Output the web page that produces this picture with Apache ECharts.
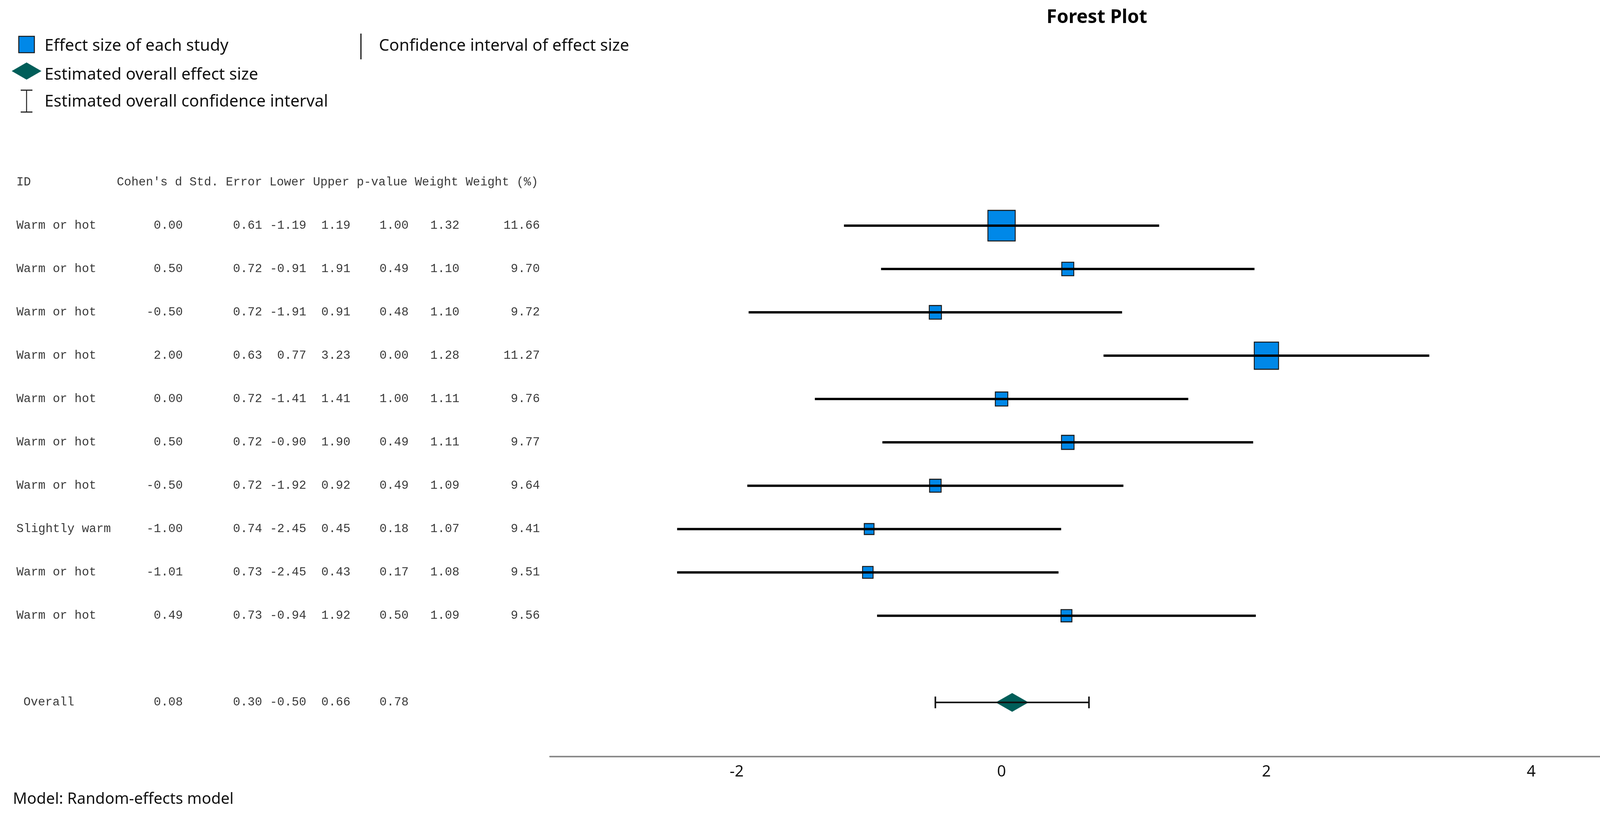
<!DOCTYPE html>
<html>
<head>
<meta charset="utf-8">
<script src="https://cdn.jsdelivr.net/npm/echarts@6/dist/echarts.min.js"></script>
<style>
html,body{margin:0;padding:0;background:#fff;}
#chart{width:4233px;height:2103px;}
</style>
</head>
<body>
<div id="chart"></div>
<script>
// ---------- data ----------
const ids = ['Warm or hot','Warm or hot','Warm or hot','Warm or hot','Warm or hot','Warm or hot','Warm or hot','Slightly warm','Warm or hot','Warm or hot'];
const cohensD = [0.00, 0.50, -0.50, 2.00, 0.00, 0.50, -0.50, -1.00, -1.01, 0.49];
const stdError = [0.61, 0.72, 0.72, 0.63, 0.72, 0.72, 0.72, 0.74, 0.73, 0.73];
const lowerCI = [-1.19, -0.91, -1.91, 0.77, -1.41, -0.90, -1.92, -2.45, -2.45, -0.94];
const upperCI = [1.19, 1.91, 0.91, 3.23, 1.41, 1.90, 0.92, 0.45, 0.43, 1.92];
const pValue = [1.00, 0.49, 0.48, 0.00, 1.00, 0.49, 0.49, 0.18, 0.17, 0.50];
const weight = [1.32, 1.10, 1.10, 1.28, 1.11, 1.11, 1.09, 1.07, 1.08, 1.09];
const weightPct = [11.66, 9.70, 9.72, 11.27, 9.76, 9.77, 9.64, 9.41, 9.51, 9.56];
const overallLabel = 'Overall';
const overallD = 0.08;
const overallSE = 0.30;
const overallLower = -0.50;
const overallUpper = 0.66;
const overallP = 0.78;
const headerID = 'ID';
const headerCols = "Cohen's d Std. Error Lower Upper p-value Weight Weight (%)";
const xTicks = [-2, 0, 2, 4];

// ---------- layout ----------
const GRID_TOP = 467, GRID_BOTTOM = 165;
const Y_MAX = 13.25;
const ROW_OVERALL = 12;
const colRight = [468, 671, 784, 897, 1046, 1176, 1382];
const ID_X = 42, OVERALL_X = 60, HEADER_X = 299;
const monoFont = '31px "Liberation Mono", "DejaVu Sans Mono", monospace';
const sansFont = '"Noto Sans", "Open Sans", sans-serif';
const BLUE = '#0088e8';
const TEAL = '#005e59';

const f2 = v => v.toFixed(2);

// table cells built from data arrays
const tableCells = [];
tableCells.push([ID_X, 0, headerID, 'left']);
tableCells.push([HEADER_X, 0, headerCols, 'left']);
ids.forEach((id, i) => {
  const y = i + 1;
  tableCells.push([ID_X, y, id, 'left']);
  const vals = [cohensD[i], stdError[i], lowerCI[i], upperCI[i], pValue[i], weight[i], weightPct[i]];
  vals.forEach((v, c) => tableCells.push([colRight[c], y, f2(v), 'right']));
});
tableCells.push([OVERALL_X, ROW_OVERALL, overallLabel, 'left']);
[overallD, overallSE, overallLower, overallUpper, overallP].forEach((v, c) =>
  tableCells.push([colRight[c], ROW_OVERALL, f2(v), 'right']));

const studyCI = ids.map((id, i) => [lowerCI[i], upperCI[i], i + 1]);
const minW = Math.min(...weightPct), maxW = Math.max(...weightPct);
const studyPts = ids.map((id, i) => {
  const s = 25 + (weightPct[i] - minW) / (maxW - minW) * 45;
  return { value: [cohensD[i], i + 1], symbolSize: [s, s * 1.12] };
});

const chart = echarts.init(document.getElementById('chart'), null, { renderer: 'canvas' });

const option = {
  backgroundColor: '#ffffff',
  animation: false,
  grid: [
    { left: 0, width: 1400, top: GRID_TOP, bottom: GRID_BOTTOM },
    { left: 1408, right: 35, top: GRID_TOP, bottom: GRID_BOTTOM }
  ],
  xAxis: [
    { gridIndex: 0, type: 'value', min: 0, max: 1400, show: false },
    {
      gridIndex: 1, type: 'value', min: -3.41, max: 4.82,
      axisLine: { show: true, onZero: false, lineStyle: { color: '#8a8a8a', width: 4 } },
      axisTick: { show: false },
      splitLine: { show: false },
      axisLabel: {
        customValues: xTicks, fontSize: 40, color: '#111', margin: 20,
        fontFamily: sansFont, showMinLabel: true, showMaxLabel: true
      }
    }
  ],
  yAxis: [
    { gridIndex: 0, type: 'value', min: 0, max: Y_MAX, inverse: true, show: false },
    { gridIndex: 1, type: 'value', min: 0, max: Y_MAX, inverse: true, show: false }
  ],
  series: [
    {
      type: 'custom', xAxisIndex: 0, yAxisIndex: 0, clip: false,
      data: tableCells,
      renderItem: function (params, api) {
        const d = tableCells[params.dataIndex];
        const p = api.coord([d[0], d[1]]);
        return {
          type: 'text', x: p[0], y: p[1],
          style: { text: d[2], textAlign: d[3], textVerticalAlign: 'middle', font: monoFont, fill: '#3a3a3a' }
        };
      }
    },
    {
      type: 'scatter', xAxisIndex: 1, yAxisIndex: 1, symbol: 'rect', z: 2,
      data: studyPts,
      itemStyle: { color: BLUE, borderColor: '#1a1a1a', borderWidth: 2.5, opacity: 1 }
    },
    {
      type: 'custom', xAxisIndex: 1, yAxisIndex: 1, z: 3,
      data: studyCI,
      renderItem: function (params, api) {
        const a = api.coord([api.value(0), api.value(2)]);
        const b = api.coord([api.value(1), api.value(2)]);
        return { type: 'line', shape: { x1: a[0], y1: a[1], x2: b[0], y2: b[1] }, style: { stroke: '#000', lineWidth: 6 } };
      }
    },
    {
      type: 'scatter', xAxisIndex: 1, yAxisIndex: 1, symbol: 'diamond', z: 2,
      symbolSize: [84, 48],
      data: [[overallD, ROW_OVERALL]],
      itemStyle: { color: TEAL, opacity: 1 }
    },
    {
      type: 'custom', xAxisIndex: 1, yAxisIndex: 1, z: 3,
      data: [[overallLower, overallUpper, ROW_OVERALL]],
      renderItem: function (params, api) {
        const a = api.coord([api.value(0), api.value(2)]);
        const b = api.coord([api.value(1), api.value(2)]);
        const h = 15;
        const st = { stroke: '#111', lineWidth: 4 };
        return {
          type: 'group', children: [
            { type: 'line', shape: { x1: a[0], y1: a[1], x2: b[0], y2: b[1] }, style: st },
            { type: 'line', shape: { x1: a[0], y1: a[1] - h, x2: a[0], y2: a[1] + h }, style: st },
            { type: 'line', shape: { x1: b[0], y1: b[1] - h, x2: b[0], y2: b[1] + h }, style: st }
          ]
        };
      }
    }
  ],
  graphic: [
    { type: 'text', x: 2808, y: 45, style: { text: 'Forest Plot', font: 'bold 48px ' + sansFont, fill: '#000', textAlign: 'center', textVerticalAlign: 'middle' } },
    // legend
    { type: 'rect', shape: { x: 48, y: 93, width: 40, height: 42 }, style: { fill: BLUE, stroke: '#1a1a1a', lineWidth: 2.5 } },
    { type: 'text', x: 114, y: 118, style: { text: 'Effect size of each study', font: '42px ' + sansFont, fill: '#111', textVerticalAlign: 'middle' } },
    { type: 'line', shape: { x1: 924, y1: 86, x2: 924, y2: 152 }, style: { stroke: '#111', lineWidth: 3 } },
    { type: 'text', x: 970, y: 118, style: { text: 'Confidence interval of effect size', font: '42px ' + sansFont, fill: '#111', textVerticalAlign: 'middle' } },
    { type: 'polygon', shape: { points: [[30, 182], [68, 160], [106, 182], [68, 204]] }, style: { fill: TEAL } },
    { type: 'text', x: 114, y: 192, style: { text: 'Estimated overall effect size', font: '42px ' + sansFont, fill: '#111', textVerticalAlign: 'middle' } },
    { type: 'line', shape: { x1: 68, y1: 231, x2: 68, y2: 287 }, style: { stroke: '#222', lineWidth: 2.5 } },
    { type: 'line', shape: { x1: 53, y1: 231, x2: 83, y2: 231 }, style: { stroke: '#222', lineWidth: 3 } },
    { type: 'line', shape: { x1: 53, y1: 287, x2: 83, y2: 287 }, style: { stroke: '#222', lineWidth: 3 } },
    { type: 'text', x: 114, y: 261, style: { text: 'Estimated overall confidence interval', font: '42px ' + sansFont, fill: '#111', textVerticalAlign: 'middle' } },
    { type: 'text', x: 33, y: 2048, style: { text: 'Model: Random-effects model', font: '40px ' + sansFont, fill: '#111', textVerticalAlign: 'middle' } }
  ]
};
chart.setOption(option);
</script>
</body>
</html>
